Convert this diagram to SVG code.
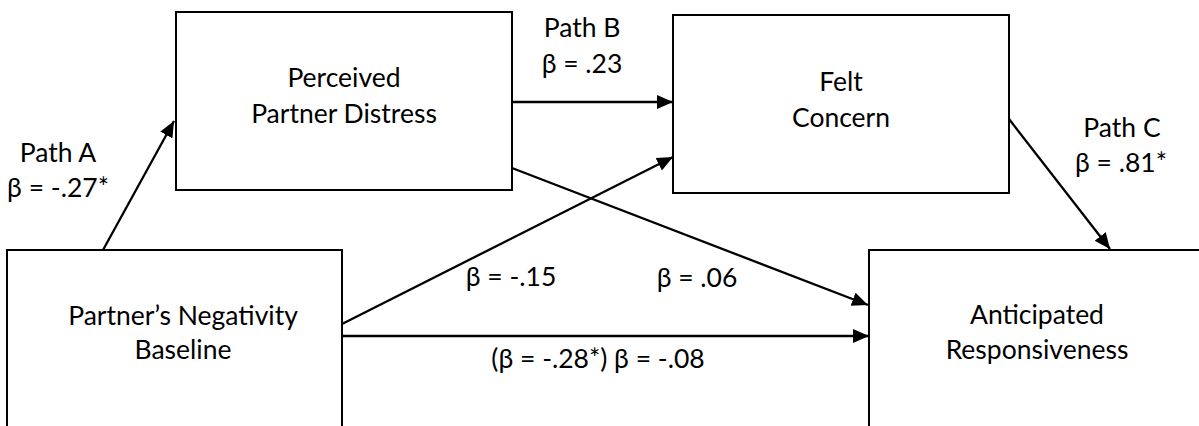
<svg xmlns="http://www.w3.org/2000/svg" width="1199" height="426" viewBox="0 0 1199 426">
  <style>
    .box { fill: #ffffff; stroke: #000000; stroke-width: 2; }
    .lbl { font-family: Lato, "Open Sans", "Noto Sans", sans-serif; font-size: 26.5px; fill: #000000; text-anchor: middle; }
    .edge { stroke: #000000; stroke-width: 2.3; fill: none; marker-end: url(#arrow); }
  </style>
  <defs>
    <marker id="arrow" markerUnits="userSpaceOnUse" markerWidth="17" markerHeight="15" refX="16" refY="7" orient="auto">
      <path d="M0,0 L16,7 L0,14 Z" fill="#000000"/>
    </marker>
  </defs>
  <rect width="1199" height="426" fill="#ffffff"/>

  <g id="node-perceived">
    <rect class="box" x="176" y="12" width="336" height="178"/>
    <text class="lbl" x="344" y="87">Perceived</text>
    <text class="lbl" x="344" y="123">Partner Distress</text>
  </g>

  <g id="node-felt">
    <rect class="box" x="673" y="15" width="336" height="178"/>
    <text class="lbl" x="841" y="91">Felt</text>
    <text class="lbl" x="841" y="127">Concern</text>
  </g>

  <g id="node-partner">
    <rect class="box" x="7" y="250" width="335" height="200"/>
    <text class="lbl" x="183" y="325">Partner’s Negativity</text>
    <text class="lbl" x="183" y="359">Baseline</text>
  </g>

  <g id="node-anticipated">
    <rect class="box" x="869" y="250" width="360" height="200"/>
    <text class="lbl" x="1037" y="324">Anticipated</text>
    <text class="lbl" x="1037" y="359">Responsiveness</text>
  </g>

  <g id="connectors">
    <line class="edge" x1="103" y1="250" x2="174" y2="121"/>
    <line class="edge" x1="512" y1="102" x2="673" y2="102"/>
    <line class="edge" x1="342" y1="324" x2="673" y2="157"/>
    <line class="edge" x1="512" y1="168" x2="868" y2="305"/>
    <line class="edge" x1="342" y1="336" x2="869" y2="336"/>
    <line class="edge" x1="1009" y1="119" x2="1110" y2="249"/>
  </g>

  <g id="labels">
    <text class="lbl" x="58" y="162">Path A</text>
    <text class="lbl" x="58" y="197">β = -.27*</text>
    <text class="lbl" x="582" y="37">Path B</text>
    <text class="lbl" x="582" y="73">β = .23</text>
    <text class="lbl" x="1122" y="137">Path C</text>
    <text class="lbl" x="1121" y="172">β = .81*</text>
    <text class="lbl" x="511" y="286">β = -.15</text>
    <text class="lbl" x="697" y="287">β = .06</text>
    <text class="lbl" x="598" y="368">(β = -.28*) β = -.08</text>
  </g>
</svg>
